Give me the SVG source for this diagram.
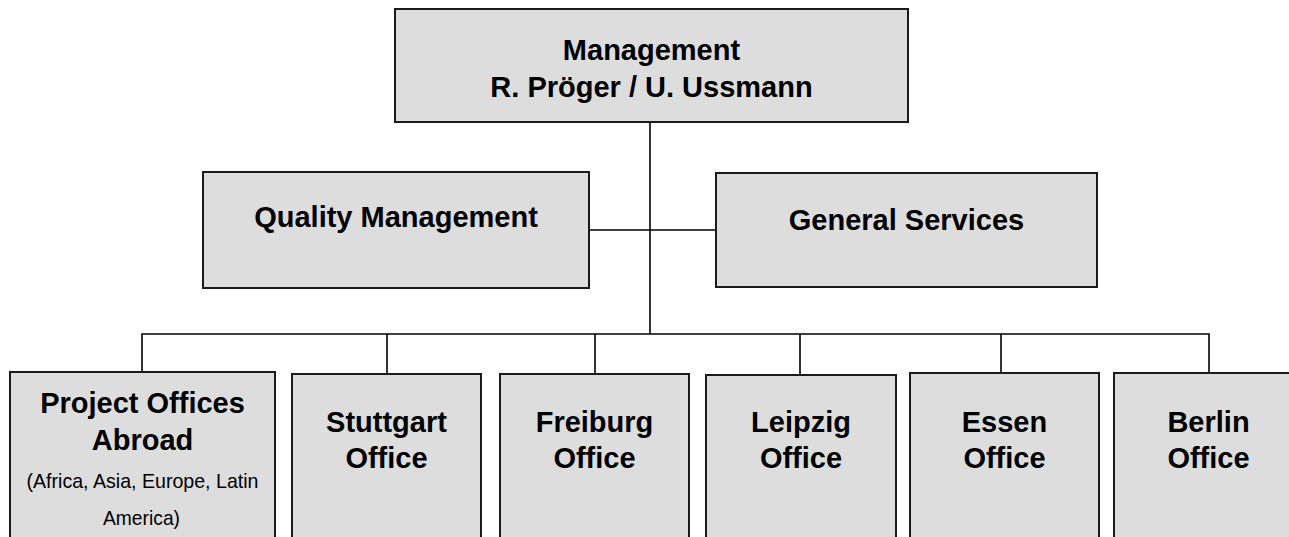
<svg xmlns="http://www.w3.org/2000/svg" width="1289" height="537" viewBox="0 0 1289 537">
<style>
.box{fill:#dddddd;stroke:#1a1a1a;stroke-width:2}
.t{font-family:"Liberation Sans",Arial,sans-serif;font-weight:bold;font-size:29px;fill:#000;text-anchor:middle}
.s{font-family:"Liberation Sans",Arial,sans-serif;font-size:21px;fill:#000;text-anchor:middle}
.c{fill:none;stroke:#000;stroke-width:1.6}
</style>
<rect width="1289" height="537" fill="#fff"/>
<g id="connectors">
<path class="c" d="M650 122V334"/>
<path class="c" d="M589 230H716"/>
<path class="c" d="M142 372V334H1209V374"/>
<path class="c" d="M387 334V374M595 334V374M800 334V375M1001 334V373"/>
</g>
<g id="management">
<rect class="box" x="395" y="9" width="513" height="113"/>
<text class="t" x="651.5" y="60">Management</text>
<text class="t" x="651.5" y="97">R. Pröger / U. Ussmann</text>
</g>
<g id="quality">
<rect class="box" x="203" y="172" width="386" height="116"/>
<text class="t" x="396" y="227">Quality Management</text>
</g>
<g id="general">
<rect class="box" x="716" y="173" width="381" height="114"/>
<text class="t" x="906.5" y="230">General Services</text>
</g>
<g id="abroad">
<rect class="box" x="10" y="372" width="265" height="200"/>
<text class="t" x="142.5" y="413">Project Offices</text>
<text class="t" x="142.5" y="450">Abroad</text>
<text class="s" x="142.5" y="488" textLength="232" lengthAdjust="spacingAndGlyphs">(Africa, Asia, Europe, Latin</text>
<text class="s" x="141.5" y="525" textLength="77" lengthAdjust="spacingAndGlyphs">America)</text>
</g>
<g id="stuttgart">
<rect class="box" x="292" y="374" width="189" height="200"/>
<text class="t" x="386.5" y="432">Stuttgart</text>
<text class="t" x="386.5" y="468">Office</text>
</g>
<g id="freiburg">
<rect class="box" x="500" y="374" width="189" height="200"/>
<text class="t" x="594.5" y="432">Freiburg</text>
<text class="t" x="594.5" y="468">Office</text>
</g>
<g id="leipzig">
<rect class="box" x="706" y="375" width="190" height="200"/>
<text class="t" x="801" y="432">Leipzig</text>
<text class="t" x="801" y="468">Office</text>
</g>
<g id="essen">
<rect class="box" x="910" y="373" width="189" height="200"/>
<text class="t" x="1004.5" y="432">Essen</text>
<text class="t" x="1004.5" y="468">Office</text>
</g>
<g id="berlin">
<rect class="box" x="1114" y="373" width="190" height="200"/>
<text class="t" x="1208.5" y="432">Berlin</text>
<text class="t" x="1208.5" y="468">Office</text>
</g>
</svg>
